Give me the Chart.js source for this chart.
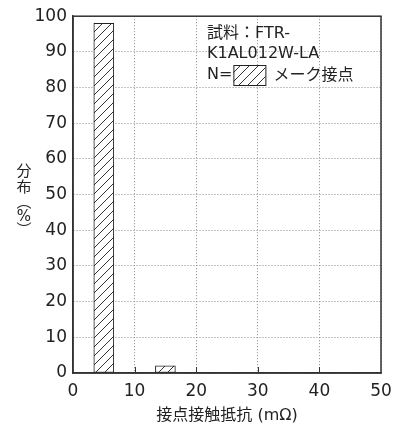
<!DOCTYPE html>
<html>
<head>
<meta charset="utf-8">
<script src="https://cdn.jsdelivr.net/npm/chart.js@4"></script>
<style>
  html, body { margin: 0; padding: 0; background: #fff; }
  #wrap { width: 406px; height: 425px; }
</style>
</head>
<body>
<div id="wrap"><canvas id="c" width="406" height="425"></canvas></div>
<script>
// 接点接触抵抗の分布 (bin centers in mΩ, distribution in %)
const resistance = [5, 15];
const distribution = [98, 2];
const xTicks = [0, 10, 20, 30, 40, 50];
const yTicks = [0, 10, 20, 30, 40, 50, 60, 70, 80, 90, 100];
const legendLines = ['試料：FTR-', 'K1AL012W-LA', 'N='];
const legendLabel = 'メーク接点';
const xTitle = '接点接触抵抗 (mΩ)';
const yTitleChars = ['分', '布', '︵', '%', '︶'];

const FONT = "'DejaVu Sans', 'Noto Sans CJK JP', sans-serif";

// hatch pattern "/" for bars and legend swatch
function makeHatch() {
  const s = 9;
  const p = document.createElement('canvas');
  p.width = s; p.height = s;
  const g = p.getContext('2d');
  g.fillStyle = '#fff';
  g.fillRect(0, 0, s, s);
  g.strokeStyle = '#333';
  g.lineWidth = 1;
  g.beginPath();
  g.moveTo(0, s); g.lineTo(s, 0);
  g.moveTo(-1, 1); g.lineTo(1, -1);
  g.moveTo(s - 1, s + 1); g.lineTo(s + 1, s - 1);
  g.stroke();
  return g.createPattern(p, 'repeat');
}
const hatch = makeHatch();

const extras = {
  id: 'extras',
  afterDraw(chart) {
    const { ctx, chartArea: a } = chart;
    ctx.save();
    // frame
    ctx.strokeStyle = '#333';
    ctx.lineWidth = 1.5;
    ctx.setLineDash([]);
    ctx.strokeRect(a.left, a.top, a.right - a.left, a.bottom - a.top);

    // small inward ticks on the x axis
    ctx.lineWidth = 1;
    ctx.beginPath();
    xTicks.slice(1, -1).forEach(v => {
      const px = Math.round(chart.scales.x.getPixelForValue(v)) + 0.5;
      ctx.moveTo(px, a.bottom);
      ctx.lineTo(px, a.bottom - 6);
    });
    ctx.stroke();

    // inner legend
    ctx.fillStyle = '#222';
    ctx.font = '16px ' + FONT;
    ctx.textBaseline = 'middle';
    ctx.textAlign = 'left';
    const lx = 207;
    ctx.fillText(legendLines[0], lx, 34);
    ctx.fillText(legendLines[1], lx, 54);
    ctx.fillText(legendLines[2], lx, 75);
    const nw = ctx.measureText(legendLines[2]).width;
    const sx = lx + nw + 1, sy = 65, sw = 32, sh = 20;
    ctx.fillStyle = hatch;
    ctx.fillRect(sx, sy, sw, sh);
    ctx.strokeStyle = '#222';
    ctx.lineWidth = 1;
    ctx.strokeRect(sx + 0.5, sy + 0.5, sw, sh);
    ctx.fillStyle = '#222';
    ctx.fillText(legendLabel, sx + sw + 8, 76);

    // vertical y title
    ctx.font = '15px ' + FONT;
    ctx.textAlign = 'center';
    const ys = [172, 188, 203, 217, 231];
    yTitleChars.forEach((ch, i) => ctx.fillText(ch, 24, ys[i]));
    ctx.restore();
  }
};

new Chart(document.getElementById('c'), {
  type: 'bar',
  data: {
    datasets: [{
      data: resistance.map((x, i) => ({ x: x, y: distribution[i] })),
      backgroundColor: hatch,
      borderColor: '#222',
      borderWidth: 1,
      borderSkipped: false,
      barThickness: 20
    }]
  },
  options: {
    responsive: false,
    animation: false,
    layout: { padding: { top: 13, right: 25, left: 0, bottom: 0 } },
    plugins: {
      legend: { display: false },
      tooltip: { enabled: false },
      title: { display: false }
    },
    scales: {
      x: {
        type: 'linear',
        min: 0,
        max: 50,
        offset: false,
        afterBuildTicks: s => { s.ticks = xTicks.map(v => ({ value: v })); },
        afterFit: s => { s.height = 52; },
        grid: { color: '#888', lineWidth: 1, drawTicks: false, offset: false },
        border: { display: true, color: '#333', width: 1.5, dash: [1, 2] },
        ticks: { font: { family: FONT, size: 17 }, color: '#222', padding: 8, maxRotation: 0 },
        title: {
          display: true,
          text: xTitle,
          font: { family: FONT, size: 16 },
          color: '#222',
          padding: { top: 0, bottom: 0 }
        }
      },
      y: {
        min: 0,
        max: 100,
        afterBuildTicks: s => { s.ticks = yTicks.map(v => ({ value: v })); },
        afterFit: s => { s.width = 73; },
        grid: { color: '#888', lineWidth: 1, drawTicks: false },
        border: { display: true, color: '#333', width: 1.5, dash: [1, 2] },
        ticks: { font: { family: FONT, size: 17 }, color: '#222', padding: 6 }
      }
    }
  },
  plugins: [extras]
});
</script>
</body>
</html>
